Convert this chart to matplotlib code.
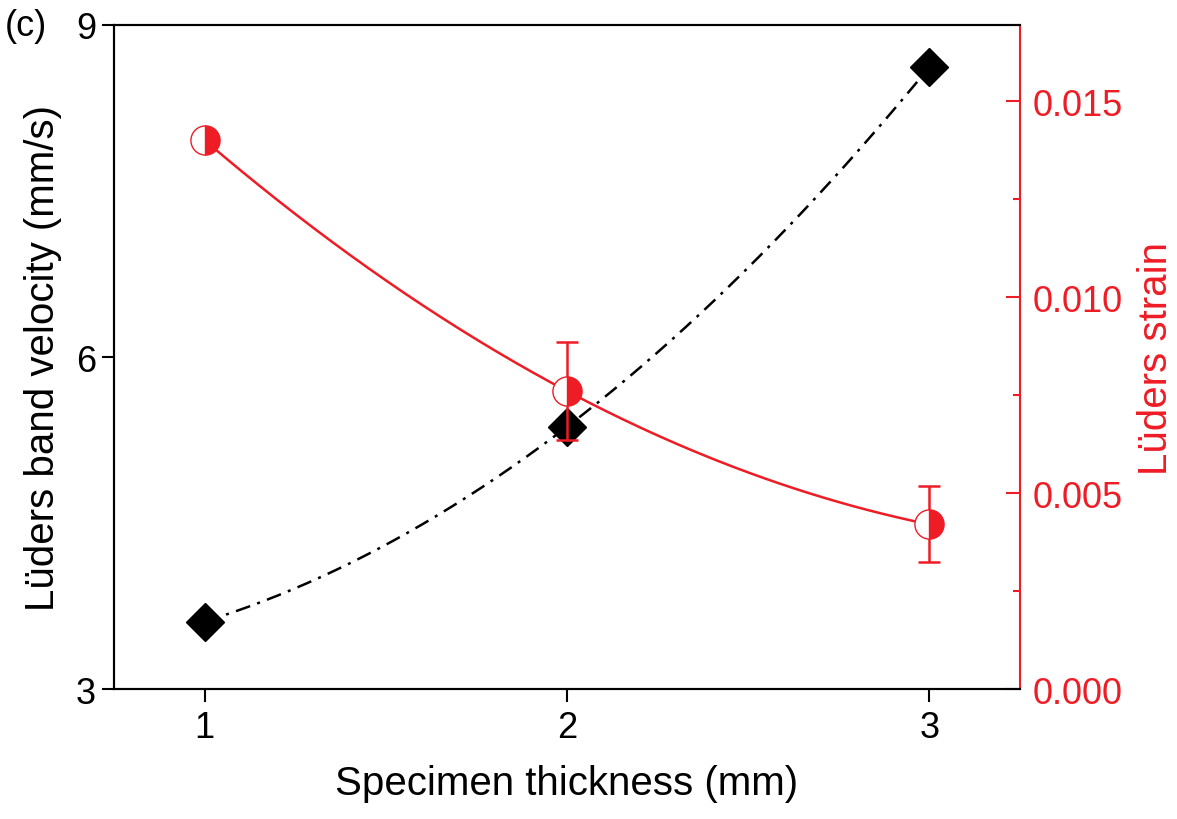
import numpy as np
import matplotlib
matplotlib.use("Agg")
import matplotlib.pyplot as plt
from matplotlib.ticker import MultipleLocator

plt.rcParams['font.family'] = ['Liberation Sans', 'DejaVu Sans']

thickness = [1, 2, 3]
velocity = [3.61, 5.37, 8.62]
strain = [0.0140, 0.0076, 0.0042]
strain_err = [0.0001, 0.00125, 0.00097]

RED = '#ee1c25'

fig = plt.figure(figsize=(11.77, 8.2), dpi=100)
ax = fig.add_axes([0.0969, 0.1585, 0.7697, 0.8098])
ax2 = ax.twinx()

# smooth fitted curves (quadratic fit through the data)
xs = np.linspace(thickness[0], thickness[-1], 200)
pv = np.polyfit(thickness, velocity, 2)
ps = np.polyfit(thickness, strain, 2)

ax.plot(xs, np.polyval(pv, xs), color='black', lw=1.8, dashes=(6, 3, 1.2, 3))
ax.plot(thickness, velocity, linestyle='none', marker='D', ms=19,
        color='black', mec='black')

ax2.plot(xs, np.polyval(ps, xs), color=RED, lw=1.8)
ax2.errorbar(thickness, strain, yerr=strain_err, fmt='none', ecolor=RED,
             elinewidth=1.8, capsize=8, capthick=1.8)
ax2.plot(thickness, strain, linestyle='none', marker='o', ms=21,
         fillstyle='right', markerfacecolor=RED, markerfacecoloralt='white',
         markeredgecolor=RED, markeredgewidth=1.0)

ax.set_xlim(0.75, 3.25)
ax.set_ylim(3, 9)
ax2.set_ylim(0, 0.01694)

ax.set_xticks(thickness)
ax.set_yticks([3, 6, 9])
ax2.set_yticks([0.0, 0.005, 0.010, 0.015])
ax2.set_yticklabels(['0.000', '0.005', '0.010', '0.015'])
ax2.yaxis.set_minor_locator(MultipleLocator(0.0025))

for s in ax.spines.values():
    s.set_linewidth(1.5)
for s in ax2.spines.values():
    s.set_linewidth(1.5)
ax2.spines['right'].set_color(RED)
ax.spines['right'].set_visible(False)

ax.tick_params(axis='both', direction='out', length=9, width=1.5,
               labelsize=26, pad=4, colors='black')
ax.tick_params(axis='x', pad=6)
ax2.tick_params(axis='y', which='major', direction='in', length=10, width=1.5,
                labelsize=26, colors=RED, pad=9)
ax2.tick_params(axis='y', which='minor', direction='in', length=5, width=1.5,
                colors=RED)

ax.set_xlabel('Specimen thickness (mm)', fontsize=29, labelpad=14)
ax.set_ylabel('Lüders band velocity (mm/s)', fontsize=29, labelpad=10)
ax2.set_ylabel('Lüders strain', fontsize=29, color=RED, labelpad=10)

fig.text(0.004, 0.968, '(c)', fontsize=26, va='center', ha='left')

fig.savefig('out.png', dpi=100)
